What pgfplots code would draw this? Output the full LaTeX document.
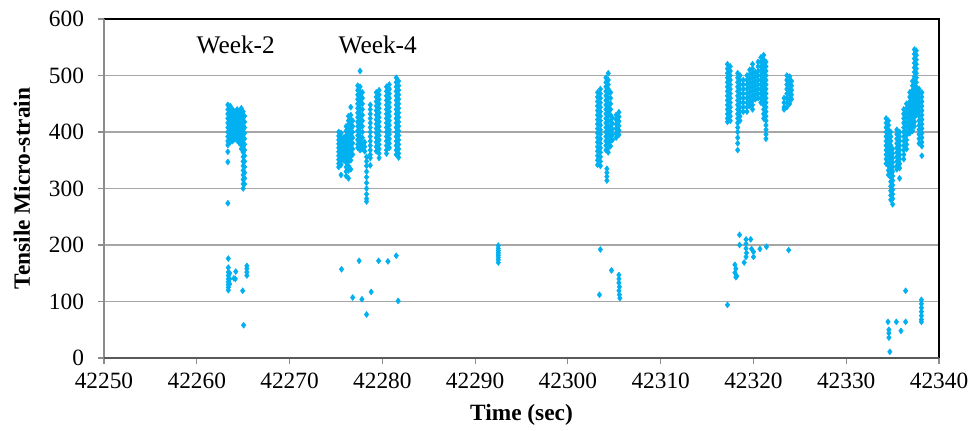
\documentclass[border=0pt]{standalone}
\usepackage{pgfplots}
\pgfplotsset{compat=1.18}
\usepackage{fontspec}
\setmainfont{Liberation Serif}
\definecolor{ptc}{HTML}{00B0F0}
\definecolor{gridc}{HTML}{A6A6A6}
\definecolor{leftc}{HTML}{8C8C8C}
\definecolor{botc}{HTML}{595959}
\begin{document}
\begin{tikzpicture}
\useasboundingbox (-78pt,-54.75pt) rectangle (648.75pt,268.5pt);
\begin{axis}[
  at={(0,0)}, anchor=south west,
  scale only axis, width=626.25pt, height=254.25pt,
  xmin=42250, xmax=42340, ymin=0, ymax=600,
  xtick={42250,42260,42270,42280,42290,42300,42310,42320,42330,42340},
  ytick={0,100,200,300,400,500,600},
  scaled ticks=false,
  /pgf/number format/fixed,
  /pgf/number format/precision=0,
  /pgf/number format/1000 sep={},
  /pgf/number format/assume math mode=true,
  tick label style={font=\fontsize{17.5}{19}\selectfont},
  xticklabel style={yshift=-3pt},
  yticklabel style={xshift=-7pt},
  tick align=outside, major tick length=4.5pt,
  tick style={leftc, line width=0.8pt},
  xtick pos=bottom, ytick pos=left,
  ymajorgrids, major grid style={gridc, line width=1.2pt},
  axis line style={draw=none},
  clip=false,
  every axis y label/.style={at={(axis description cs:-0.0982,0.5)}, rotate=90, anchor=center},
  every axis x label/.style={at={(axis description cs:0.5,-0.168)}, anchor=center},
  ylabel={\fontsize{17.5}{19}\selectfont\bfseries Tensile Micro-strain},
  xlabel={\fontsize{17.5}{19}\selectfont\bfseries Time (sec)},
]
\addplot[only marks, mark=diamond*, mark size=2.2pt, color=ptc] coordinates {
(42263.35,448)(42263.35,440)(42263.35,432)(42263.35,424)(42263.35,416)(42263.35,408)(42263.35,400)(42263.35,392)(42263.35,384)(42263.35,377)(42263.35,365)(42263.35,347)(42263.35,274)
(42263.6,446)(42263.6,438)(42263.6,430)(42263.6,422)(42263.6,414)(42263.6,406)(42263.6,398)(42263.6,390)(42263.6,382)
(42263.85,440)(42263.85,433)(42263.85,426)(42263.85,419)(42263.85,412)(42263.85,405)(42263.85,398)(42263.85,391)(42263.85,384)
(42264.1,436)(42264.1,429)(42264.1,422)(42264.1,415)(42264.1,408)(42264.1,401)(42264.1,394)(42264.1,387)
(42264.35,440)(42264.35,432)(42264.35,424)(42264.35,416)(42264.35,408)(42264.35,400)(42264.35,392)(42264.35,385)
(42264.6,436)(42264.6,428)(42264.6,420)(42264.6,412)(42264.6,404)(42264.6,396)(42264.6,388)(42264.6,380)
(42264.8,442)(42264.8,434)(42264.8,426)(42264.8,418)(42264.8,410)(42264.8,402)(42264.8,394)(42264.8,386)(42264.8,378)(42264.8,370)
(42265.0,436)(42265.0,428)(42265.0,420)(42265.0,412)(42265.0,404)(42265.0,396)(42265.0,388)(42265.0,380)(42265.0,372)(42265.0,364)(42265.0,356)(42265.0,348)(42265.0,340)(42265.0,332)(42265.0,324)(42265.0,316)(42265.0,308)(42265.0,300)
(42265.15,428)(42265.15,418)(42265.15,408)(42265.15,398)(42265.15,388)(42265.15,378)(42265.15,368)(42265.15,358)(42265.15,348)(42265.15,338)(42265.15,328)(42265.15,318)(42265.15,308)
(42263.4,176)(42263.4,160)(42263.4,152)(42263.4,146)(42263.4,140)(42263.4,135)(42263.4,130)(42263.4,125)(42263.4,120)
(42263.55,150)(42263.55,140)(42263.55,131)(42264.2,153)(42264.0,141)(42264.15,140)(42264.95,119)
(42265.4,163)(42265.4,158)(42265.4,152)(42265.4,146)(42265.05,58)
(42275.3,400)(42275.3,393)(42275.3,386)(42275.3,379)(42275.3,372)(42275.3,365)(42275.3,358)(42275.3,351)(42275.3,344)(42275.3,338)
(42275.55,398)(42275.55,390)(42275.55,382)(42275.55,374)(42275.55,366)(42275.55,358)(42275.55,350)(42275.55,342)(42275.55,324)
(42275.8,390)(42275.8,382)(42275.8,374)(42275.8,366)(42275.8,358)(42275.8,350)
(42276.1,410)(42276.1,402)(42276.1,394)(42276.1,386)(42276.1,378)(42276.1,370)(42276.1,362)(42276.1,354)(42276.1,346)(42276.1,338)(42276.1,330)(42276.1,322)
(42276.35,428)(42276.35,420)(42276.35,412)(42276.35,404)(42276.35,396)(42276.35,388)(42276.35,380)(42276.35,372)(42276.35,364)(42276.35,356)(42276.35,348)(42276.35,340)(42276.35,332)(42276.35,318)
(42276.6,444)(42276.6,430)(42276.6,422)(42276.6,414)(42276.6,406)(42276.6,398)(42276.6,390)(42276.6,382)(42276.6,374)(42276.6,366)(42276.6,358)(42276.6,350)(42276.6,334)
(42276.8,420)(42276.8,410)(42276.8,400)(42276.8,390)(42276.8,380)(42276.8,370)(42276.8,360)
(42277.35,482)(42277.35,474)(42277.35,466)(42277.35,458)(42277.35,450)(42277.35,442)(42277.35,434)(42277.35,426)(42277.35,418)(42277.35,410)(42277.35,402)(42277.35,394)(42277.35,386)(42277.35,378)(42277.35,372)
(42277.6,508)(42277.6,480)(42277.6,472)(42277.6,464)(42277.6,456)(42277.6,448)(42277.6,440)(42277.6,432)(42277.6,424)(42277.6,416)(42277.6,408)(42277.6,400)(42277.6,392)(42277.6,384)(42277.6,376)(42277.6,368)
(42277.85,470)(42277.85,460)(42277.85,450)(42277.85,440)(42277.85,430)(42277.85,420)(42277.85,410)(42277.85,400)(42277.85,390)(42277.85,380)(42277.85,370)
(42278.1,382)(42278.1,374)(42278.1,366)
(42278.3,356)(42278.3,348)(42278.3,340)(42278.3,330)(42278.3,320)(42278.3,310)(42278.3,300)(42278.3,290)(42278.3,282)(42278.3,277)
(42278.7,448)(42278.7,440)(42278.7,432)(42278.7,424)(42278.7,416)(42278.7,408)(42278.7,400)(42278.7,392)(42278.7,384)(42278.7,376)(42278.7,368)(42278.7,360)(42278.7,354)(42278.7,341)
(42279.35,470)(42279.35,462)(42279.35,454)(42279.35,446)(42279.35,438)(42279.35,430)(42279.35,422)(42279.35,414)(42279.35,406)(42279.35,398)(42279.35,390)(42279.35,382)(42279.35,374)(42279.35,366)
(42279.65,474)(42279.65,466)(42279.65,458)(42279.65,450)(42279.65,442)(42279.65,434)(42279.65,426)(42279.65,418)(42279.65,410)(42279.65,402)(42279.65,394)(42279.65,386)(42279.65,378)(42279.65,370)(42279.65,362)(42279.65,354)
(42280.45,480)(42280.45,472)(42280.45,464)(42280.45,456)(42280.45,448)(42280.45,440)(42280.45,432)(42280.45,424)(42280.45,416)(42280.45,408)(42280.45,400)(42280.45,392)(42280.45,384)(42280.45,376)(42280.45,368)(42280.45,362)
(42280.75,484)(42280.75,476)(42280.75,468)(42280.75,460)(42280.75,452)(42280.75,444)(42280.75,436)(42280.75,428)(42280.75,420)(42280.75,412)(42280.75,404)(42280.75,396)(42280.75,388)(42280.75,380)(42280.75,372)
(42281.5,496)(42281.5,488)(42281.5,480)(42281.5,472)(42281.5,464)(42281.5,456)(42281.5,448)(42281.5,440)(42281.5,432)(42281.5,424)(42281.5,416)(42281.5,408)(42281.5,400)(42281.5,392)(42281.5,384)(42281.5,376)(42281.5,368)(42281.5,360)
(42281.75,490)(42281.75,482)(42281.75,474)(42281.75,466)(42281.75,458)(42281.75,450)(42281.75,442)(42281.75,434)(42281.75,426)(42281.75,418)(42281.75,410)(42281.75,402)(42281.75,394)(42281.75,386)(42281.75,378)(42281.75,370)(42281.75,362)(42281.75,355)
(42275.6,157)(42277.5,172)(42276.8,107)(42277.8,104)(42278.3,77)(42278.8,117)(42279.6,172)(42280.6,171)(42281.5,181)(42281.7,101)
(42292.5,199)(42292.5,194)(42292.5,190)(42292.5,186)(42292.5,182)(42292.5,178)(42292.5,174)(42292.5,169)
(42303.2,470)(42303.2,462)(42303.2,454)(42303.2,446)(42303.2,438)(42303.2,430)(42303.2,422)(42303.2,414)(42303.2,406)(42303.2,398)(42303.2,390)(42303.2,382)(42303.2,374)(42303.2,366)(42303.2,358)(42303.2,350)(42303.2,342)
(42303.5,476)(42303.5,468)(42303.5,460)(42303.5,452)(42303.5,444)(42303.5,436)(42303.5,428)(42303.5,420)(42303.5,412)(42303.5,404)(42303.5,396)(42303.5,388)(42303.5,380)(42303.5,372)(42303.5,364)(42303.5,356)(42303.5,348)(42303.5,340)
(42304.1,496)(42304.1,488)(42304.1,480)(42304.1,472)(42304.1,464)(42304.1,456)(42304.1,448)(42304.1,440)(42304.1,432)(42304.1,424)(42304.1,416)(42304.1,408)(42304.1,400)(42304.1,392)(42304.1,384)(42304.1,376)(42304.1,368)
(42304.35,504)(42304.35,492)(42304.35,484)(42304.35,476)(42304.35,468)(42304.35,460)(42304.35,452)(42304.35,444)(42304.35,436)(42304.35,428)(42304.35,420)(42304.35,412)(42304.35,404)(42304.35,396)(42304.35,388)(42304.35,380)(42304.35,372)(42304.35,364)
(42304.6,470)(42304.6,460)(42304.6,450)(42304.6,440)(42304.6,430)(42304.6,420)(42304.6,410)(42304.6,400)(42304.6,392)(42304.6,384)(42304.6,375)
(42304.2,335)(42304.2,328)(42304.2,321)(42304.2,314)
(42304.8,425)(42304.8,415)(42304.8,405)(42304.8,395)(42304.8,386)
(42305.2,430)(42305.2,422)(42305.2,414)(42305.2,406)(42305.2,398)(42305.2,390)
(42305.5,435)(42305.5,427)(42305.5,419)(42305.5,411)(42305.5,403)(42305.5,395)
(42303.5,192)(42303.4,112)(42304.7,155)(42305.5,147)(42305.5,140)(42305.5,133)(42305.55,126)(42305.5,119)(42305.55,112)(42305.6,106)
(42317.2,520)(42317.2,512)(42317.2,504)(42317.2,496)(42317.2,488)(42317.2,480)(42317.2,472)(42317.2,464)(42317.2,456)(42317.2,448)(42317.2,440)(42317.2,432)(42317.2,424)(42317.2,418)
(42317.5,516)(42317.5,508)(42317.5,500)(42317.5,492)(42317.5,484)(42317.5,476)(42317.5,468)(42317.5,460)(42317.5,452)(42317.5,444)(42317.5,436)(42317.5,428)(42317.5,420)
(42318.3,504)(42318.3,496)(42318.3,488)(42318.3,480)(42318.3,472)(42318.3,464)(42318.3,456)(42318.3,448)(42318.3,440)(42318.3,432)(42318.3,424)(42318.3,416)(42318.3,408)(42318.3,400)(42318.3,390)(42318.3,380)(42318.3,368)
(42318.55,500)(42318.55,492)(42318.55,484)(42318.55,476)(42318.55,468)(42318.55,460)(42318.55,452)(42318.55,444)(42318.55,436)(42318.55,428)(42318.55,420)
(42318.9,492)(42318.9,484)(42318.9,476)(42318.9,468)(42318.9,460)(42318.9,452)(42318.9,444)(42318.9,436)
(42319.3,500)(42319.3,492)(42319.3,484)(42319.3,476)(42319.3,468)(42319.3,460)(42319.3,452)(42319.3,444)(42319.3,436)
(42319.6,510)(42319.6,502)(42319.6,494)(42319.6,486)(42319.6,478)(42319.6,470)(42319.6,462)(42319.6,454)(42319.6,446)
(42319.9,520)(42319.9,512)(42319.9,504)(42319.9,496)(42319.9,488)(42319.9,480)(42319.9,472)(42319.9,464)(42319.9,456)(42319.9,448)(42319.9,440)
(42320.2,506)(42320.2,498)(42320.2,490)(42320.2,482)(42320.2,474)(42320.2,466)(42320.2,458)
(42320.5,524)(42320.5,516)(42320.5,508)(42320.5,500)(42320.5,492)(42320.5,484)(42320.5,476)(42320.5,468)(42320.5,460)
(42320.8,532)(42320.8,524)(42320.8,516)(42320.8,508)(42320.8,500)(42320.8,492)(42320.8,484)(42320.8,476)(42320.8,468)(42320.8,460)(42320.8,452)
(42321.1,536)(42321.1,528)(42321.1,520)(42321.1,512)(42321.1,504)(42321.1,496)(42321.1,488)(42321.1,480)(42321.1,472)(42321.1,464)(42321.1,456)(42321.1,448)(42321.1,440)(42321.1,432)(42321.1,424)
(42321.35,524)(42321.35,516)(42321.35,508)(42321.35,500)(42321.35,492)(42321.35,484)(42321.35,476)(42321.35,468)(42321.35,460)(42321.35,452)(42321.35,444)(42321.35,436)(42321.35,428)(42321.35,420)(42321.35,412)(42321.35,404)(42321.35,396)(42321.35,388)
(42323.3,460)(42323.3,452)(42323.3,444)(42323.3,440)
(42323.6,500)(42323.6,492)(42323.6,484)(42323.6,476)(42323.6,468)(42323.6,460)(42323.6,452)(42323.6,444)
(42323.9,498)(42323.9,490)(42323.9,482)(42323.9,474)(42323.9,466)(42323.9,458)(42323.9,450)
(42324.1,490)(42324.1,482)(42324.1,474)(42324.1,466)(42324.1,458)
(42317.2,94)(42318.0,165)(42318.1,158)(42318.0,151)(42318.2,145)(42318.1,143)(42318.5,218)(42318.5,200)(42319.0,169)(42319.2,210)(42319.2,202)(42319.2,194)(42319.25,186)(42319.2,179)(42319.7,210)(42319.8,193)(42320.0,179)(42320.0,188)(42320.7,193)(42321.4,197)(42323.8,191)
(42334.3,424)(42334.3,416)(42334.3,408)(42334.3,400)(42334.3,392)(42334.3,384)(42334.3,376)(42334.3,368)(42334.3,360)(42334.3,352)(42334.3,344)
(42334.55,420)(42334.55,412)(42334.55,404)(42334.55,396)(42334.55,388)(42334.55,380)(42334.55,372)(42334.55,364)(42334.55,356)(42334.55,348)(42334.55,340)(42334.55,332)(42334.55,324)
(42334.8,400)(42334.8,392)(42334.8,384)(42334.8,376)(42334.8,368)(42334.8,360)(42334.8,352)(42334.8,344)(42334.8,336)(42334.8,328)(42334.8,320)(42334.8,312)(42334.8,304)(42334.8,296)(42334.8,288)(42334.8,280)
(42335.0,370)(42335.0,362)(42335.0,354)(42335.0,346)(42335.0,338)(42335.0,330)(42335.0,322)(42335.0,314)(42335.0,306)(42335.0,298)(42335.0,290)(42335.0,282)(42335.0,272)
(42335.45,404)(42335.45,396)(42335.45,388)(42335.45,380)(42335.45,372)(42335.45,364)(42335.45,356)(42335.45,348)(42335.45,340)(42335.45,334)
(42335.75,400)(42335.75,392)(42335.75,384)(42335.75,376)(42335.75,368)(42335.75,360)(42335.75,352)(42335.75,344)(42335.75,336)(42335.75,318)
(42336.2,440)(42336.2,432)(42336.2,424)(42336.2,416)(42336.2,408)(42336.2,400)(42336.2,392)(42336.2,384)(42336.2,376)(42336.2,368)(42336.2,360)(42336.2,352)
(42336.5,450)(42336.5,442)(42336.5,434)(42336.5,426)(42336.5,418)(42336.5,410)(42336.5,402)(42336.5,394)(42336.5,386)(42336.5,378)(42336.5,370)
(42336.85,470)(42336.85,462)(42336.85,454)(42336.85,446)(42336.85,438)(42336.85,430)(42336.85,422)(42336.85,414)(42336.85,406)(42336.85,398)
(42337.15,490)(42337.15,482)(42337.15,474)(42337.15,466)(42337.15,458)(42337.15,450)(42337.15,442)(42337.15,434)(42337.15,426)(42337.15,418)(42337.15,410)(42337.15,402)
(42337.35,546)(42337.35,538)(42337.35,530)(42337.35,522)(42337.35,514)(42337.35,506)(42337.35,498)(42337.35,490)(42337.35,482)(42337.35,474)(42337.35,466)(42337.35,458)(42337.35,450)(42337.35,442)(42337.35,434)(42337.35,426)(42337.35,418)(42337.35,410)
(42337.55,544)(42337.55,536)(42337.55,528)(42337.55,520)(42337.55,512)(42337.55,504)(42337.55,496)(42337.55,488)(42337.55,480)(42337.55,472)(42337.55,464)(42337.55,456)(42337.55,448)(42337.55,440)(42337.55,432)
(42337.85,476)(42337.85,468)(42337.85,460)(42337.85,452)(42337.85,444)(42337.85,436)(42337.85,428)(42337.85,420)(42337.85,412)(42337.85,404)(42337.85,396)(42337.85,388)(42337.85,380)
(42338.15,470)(42338.15,462)(42338.15,454)(42338.15,446)(42338.15,438)(42338.15,430)(42338.15,422)(42338.15,414)(42338.15,406)(42338.15,398)(42338.15,390)(42338.15,382)(42338.15,375)(42338.15,358)
(42334.5,64)(42334.6,50)(42334.6,44)(42334.6,36)(42334.7,11)(42335.4,64)(42335.9,48)(42336.4,64)(42336.4,119)(42338.1,103)(42338.1,96)(42338.1,89)(42338.1,82)(42338.1,75)(42338.1,68)(42338.1,64)
};
\draw[black, line width=1.1pt] (rel axis cs:0,1) -- (rel axis cs:1,1) -- (rel axis cs:1,0);
\draw[leftc, line width=1.5pt] (rel axis cs:0,0) -- (rel axis cs:0,1);
\draw[botc, line width=1.5pt] (rel axis cs:0,0) -- (rel axis cs:1,0);
\node[font=\fontsize{19}{21}\selectfont] at (axis cs:42264.2,554) {Week-2};
\node[font=\fontsize{19}{21}\selectfont] at (axis cs:42279.5,554) {Week-4};
\end{axis}
\end{tikzpicture}
\end{document}
